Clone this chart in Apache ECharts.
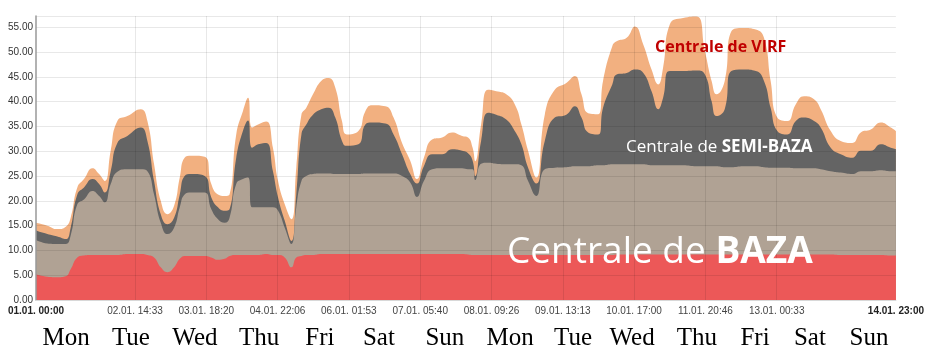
<!DOCTYPE html>
<html><head><meta charset="utf-8">
<script src="https://cdn.jsdelivr.net/npm/echarts@6/dist/echarts.min.js"></script>
<style>html,body{margin:0;padding:0;background:#fff}#c{width:927px;height:356px}</style>
</head><body><div id="c"></div>
<script>
// hours since 01.01. 00:00
const hours = [0,4.4,8.3,11.6,13.5,16.1,18.7,22.0,24.6,26.8,29.1,31.7,35.6,40.8,43.4,46.0,48.6,51.2,53.8,56.0,
  57.9,60.5,65.7,68.3,70.9,73.5,75.4,78.0,80.6,82.6,84.2,86.5,89.7,92.3,94.3,96.9,99.5,101.4,103.4,105.3,107.9,111.1,
  114.0,116.6,119.2,121.1,125.6,128.3,130.9,136.1,139.3,142.6,145.8,148.4,151.1,154.3,158.2,162.1,166.0,168.3,
  170.1,171.1,173.4,176.1,179.3,183.2,186.5,189.1,191.7,194.9,198.2,202.1,206.6,209.9,212.5,215.1,219.0,220.9,224.5,
  226.2,230.1,233.3,236.6,239.8,242.4,244.3,246.9,252.1,257.3,260.6,263.2,265.1,268.3,270.9,275.5,280.4,
  283.6,286.2,288.8,292.7,296.0,299.2,303.1,305.7,309.6,313.5,318.0,321.3,325.2,329.1,333.0,335.0];
// upper edge of each band (cumulative)
const redTop = [5.2,4.7,4.6,4.8,6.2,8.6,9.0,9.1,9.1,9.1,9.1,9.1,9.3,9.3,9.1,8.6,6.6,5.6,6.6,8.3,
  8.9,8.9,8.9,8.6,8.1,8.3,8.9,9.1,9.1,9.1,9.1,9.1,9.3,9.1,9.1,8.6,6.6,8.6,8.9,9.1,9.1,9.3,
  9.3,9.3,9.3,9.3,9.3,9.3,9.3,9.3,9.3,9.3,9.3,9.3,9.3,9.3,9.3,9.3,9.3,9.2,
  9.1,9.1,9.1,9.1,9.1,9.1,9.1,9.1,9.1,9.1,9.1,9.1,9.1,9.1,9.1,9.1,9.1,9.1,9.1,
  9.2,9.2,9.2,9.2,9.2,9.2,9.2,9.2,9.2,9.2,9.2,9.2,9.2,9.2,9.2,9.2,9.2,
  9.2,9.2,9.2,9.2,9.2,9.2,9.2,9.2,9.2,9.1,9.1,9.1,9.1,9.1,9.0,9.0];
const tanTop = [12.1,11.4,11.3,11.3,13.0,19.3,20.3,22.0,21.0,19.7,23.4,25.9,26.4,26.4,26.0,21.3,15.6,13.3,14.6,18.7,
  21.3,21.7,21.7,18.3,16.3,15.6,16.6,23.4,24.4,24.7,18.7,18.7,18.7,18.7,18.0,14.6,11.3,18.7,24.0,25.0,25.4,25.5,
  25.5,25.4,25.4,25.4,25.4,25.5,25.5,25.5,25.5,25.0,23.7,20.8,24.0,26.4,26.6,26.6,26.6,26.4,
  26.4,24.2,27.5,27.7,27.5,27.4,27.4,27.2,24.0,21.0,26.4,26.7,26.8,27.0,27.0,27.0,27.2,27.2,27.4,
  27.4,27.4,27.4,27.4,27.2,27.2,27.2,27.2,27.2,27.0,27.0,27.0,27.0,26.8,26.8,27.0,27.0,
  26.8,26.7,26.7,26.7,26.6,26.6,26.6,26.4,26.0,25.7,25.4,26.0,26.0,26.2,26.0,26.0];
const grayTop = [14.0,13.3,12.8,12.3,14.6,21.3,22.7,24.4,23.4,21.7,26.0,31.7,33.1,34.8,32.1,24.0,17.3,15.3,16.6,21.3,
  25.0,25.4,25.0,20.7,18.7,18.0,18.3,28.7,34.1,36.2,30.7,31.4,31.7,26.0,20.7,16.0,11.9,21.3,33.4,35.4,37.4,38.5,
  38.8,36.8,32.1,31.1,31.4,35.4,35.8,35.6,33.4,29.4,25.4,23.5,27.0,29.4,29.4,30.4,30.1,29.6,
  28.1,25.0,32.1,37.8,37.4,36.4,34.1,31.4,26.7,23.5,32.1,36.8,37.4,39.1,36.8,33.8,33.4,38.8,43.5,
  45.5,45.8,46.5,45.8,42.1,38.5,40.8,46.2,46.2,46.3,45.5,40.1,37.1,38.5,46.2,46.5,46.2,
  44.2,38.8,34.1,33.4,36.1,36.8,36.1,34.8,30.7,29.4,28.7,30.1,30.1,31.4,30.7,30.4];
const orangeTop = [15.6,15.0,14.3,14.8,16.6,22.7,24.4,26.6,25.4,24.0,30.1,36.1,37.1,38.5,36.1,27.4,20.0,17.3,19.0,24.7,
  28.7,29.1,28.9,23.4,21.3,21.0,21.3,33.4,38.1,40.8,34.8,35.4,36.0,30.7,24.0,19.3,16.3,26.7,37.4,38.8,41.5,44.2,
  44.8,42.8,36.1,33.4,34.1,38.1,39.3,39.1,36.8,31.7,28.1,24.4,28.7,32.4,32.8,33.8,33.1,32.8,
  30.7,28.0,35.4,42.4,42.1,41.5,39.5,35.4,30.1,24.7,37.4,42.4,43.8,45.2,41.5,37.7,37.5,44.2,51.2,
  52.2,52.9,55.2,51.5,46.5,43.5,46.9,55.6,56.9,57.2,50.2,44.2,41.5,44.2,54.2,54.9,54.6,
  52.9,44.2,36.8,36.1,39.5,41.1,40.5,38.5,34.1,32.1,31.7,33.8,34.4,35.8,34.8,34.1];

const tickLabels = ['01.01. 00:00','02.01. 14:33','03.01. 18:20','04.01. 22:06','06.01. 01:53','07.01. 05:40',
  '08.01. 09:26','09.01. 13:13','10.01. 17:00','11.01. 20:46','13.01. 00:33','14.01. 23:00'];
const dayNames = ['Mon','Tue','Wed','Thu','Fri','Sat','Sun','Mon','Tue','Wed','Thu','Fri','Sat','Sun'];
const dayHours = [11.7,37.0,61.9,86.9,110.6,133.6,159.3,184.7,209.2,232.2,257.5,280.1,301.5,324.5];

function labelHour(s){ const d=parseInt(s.slice(0,2)); const hh=parseInt(s.slice(7,9)); const mm=parseInt(s.slice(10,12)); return (d-1)*24+hh+mm/60; }
const tickHours = tickLabels.map(labelHour);
function nearestIdx(arr,v){ let b=0; for(let i=1;i<arr.length;i++){ if(Math.abs(arr[i]-v)<Math.abs(arr[b]-v)) b=i; } return b; }
function pairs(arr){ return hours.map((h,i)=>[h,arr[i]]); }

const chart = echarts.init(document.getElementById('c'), null, {renderer:'canvas'});
function band(name, arr, color){
  return {name, type:'line', xAxisIndex:0, data:pairs(arr), showSymbol:false, smooth:0.5,
    lineStyle:{width:0}, areaStyle:{color, opacity:1}, silent:true, animation:false};
}
chart.setOption({
  animation:false,
  backgroundColor:'#fff',
  grid:{left:36, right:31, top:16, bottom:56},
  xAxis:[{
    type:'value', min:0, max:335, z:10,
    axisLine:{show:true, lineStyle:{color:'#d8d8d8', width:1}},
    axisTick:{show:false, customValues: tickHours.slice(1, tickHours.length-1)},
    splitLine:{show:true, lineStyle:{color:'rgba(0,0,0,0.09)', width:1}},
    axisLabel:{customValues: tickHours, margin:6, fontFamily:'Liberation Sans', fontSize:10, color:'#444',
      formatter:(v)=>{ const i=nearestIdx(tickHours,v); return (i===0||i===tickHours.length-1)?'{b|'+tickLabels[i]+'}':tickLabels[i]; },
      rich:{b:{fontWeight:'bold', fontFamily:'Liberation Sans', fontSize:10, color:'#222'}}}
  },{
    type:'value', min:0, max:335, position:'bottom',
    axisLine:{show:false}, axisTick:{show:false}, splitLine:{show:false},
    axisLabel:{customValues: dayHours, margin:26, fontFamily:'Liberation Serif', fontSize:25, color:'#000',
      formatter:(v)=>dayNames[nearestIdx(dayHours,v)]}
  }],
  yAxis:{
    type:'value', min:0, max:57.3, interval:5, z:10,
    axisLine:{show:true, lineStyle:{color:'#999', width:1.5}},
    axisTick:{show:false},
    splitLine:{show:true, lineStyle:{color:'rgba(0,0,0,0.09)', width:1}},
    axisLabel:{margin:3, fontFamily:'Liberation Sans', fontSize:10, color:'#333', formatter:(v)=>v.toFixed(2),
      showMaxLabel:false}
  },
  series:[
    band('Centrale de VIRF', orangeTop, '#F2B080'),
    band('Centrale de SEMI-BAZA', grayTop, '#646464'),
    band('Centrale de BAZA', tanTop, '#B0A294'),
    band('Centrale de BAZA (bază)', redTop, '#EC5858')
  ],
  graphic:[
    {type:'text', left:655, top:39, z:100, style:{text:'Centrale de VIRF', fill:'#C00000', font:'bold 16px "Open Sans"'}},
    {type:'text', left:626, top:139, z:100, style:{text:'{r|Centrale de }{b|SEMI-BAZA}', fill:'#fff',
      rich:{r:{fontFamily:'Open Sans', fontSize:17, fill:'#fff'}, b:{fontFamily:'Open Sans', fontWeight:'bold', fontSize:17, fill:'#fff'}}}},
    {type:'text', left:507, top:234, z:100, style:{text:'{r|Centrale de }{b|BAZA}', fill:'#fff',
      rich:{r:{fontFamily:'Open Sans', fontSize:37, fill:'#fff'}, b:{fontFamily:'Open Sans', fontWeight:'bold', fontSize:37, fill:'#fff'}}}}
  ]
});
</script></body></html>
